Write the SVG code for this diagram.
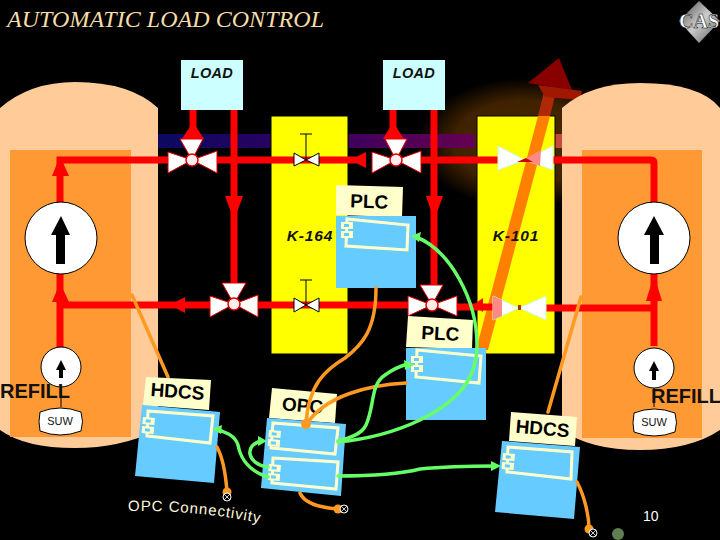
<svg xmlns="http://www.w3.org/2000/svg" xmlns:xlink="http://www.w3.org/1999/xlink" width="720" height="540" viewBox="0 0 720 540">
<style>
.s{font-family:"Liberation Sans",Arial,sans-serif}
.tank{fill:#ffcc99}.inner{fill:#ff9933}
.yel{fill:#ffff00;stroke:#000;stroke-width:1}
.load{fill:#ccffff}
.lt{font-size:14.5px;font-style:italic;font-weight:bold;fill:#111;text-anchor:middle;letter-spacing:.3px}
.k{font-size:15.5px;font-style:italic;font-weight:bold;fill:#111;text-anchor:middle;letter-spacing:.9px}
.pipe{fill:none;stroke:#ff0000;stroke-width:7}
.rh{fill:#ff0000}
.v{fill:#fff;stroke:#e00000;stroke-width:1}
.vc{fill:#ffeeee;stroke:#e00000;stroke-width:1.5}
.sv{fill:#fff;stroke:#000;stroke-width:1}
.pg{fill:#ffffff;stroke:#ccffcc;stroke-width:1}
.pump{fill:#fff;stroke:#000;stroke-width:1}
.lab{fill:#ffffcc}.blue{fill:#66ccff}
.in{fill:none;stroke:#ffffcc;stroke-width:3}
.bt{font-size:19px;font-weight:bold;fill:#000;text-anchor:middle}
.gr{fill:none;stroke:#66ff66;stroke-width:3.5;stroke-linecap:round}
.gh{fill:#66ff66}
.or{fill:none;stroke:#ff9922;stroke-width:3.5;stroke-linecap:round}
.od{fill:#ff9922}
.x{fill:#000;stroke:#fff;stroke-width:1}
.ref{font-size:20px;font-weight:bold;fill:#111}
.suw{fill:#fff;stroke:#000;stroke-width:1}
</style>
<defs>
<radialGradient id="glow"><stop offset="0" stop-color="#4f2b00"/><stop offset=".65" stop-color="#402200"/><stop offset="1" stop-color="#000"/></radialGradient>
<linearGradient id="band" x1="0" x2="1" y1="0" y2="0"><stop offset="0" stop-color="#0a0a60"/><stop offset=".45" stop-color="#300060"/><stop offset="1" stop-color="#660050"/></linearGradient>
<linearGradient id="dia" x1="0" x2="1" y1="0" y2="1"><stop offset="0" stop-color="#444"/><stop offset=".5" stop-color="#ccc"/><stop offset="1" stop-color="#555"/></linearGradient>
<g id="lug"><rect x="0" y="0" width="12" height="7" fill="#ffffcc"/><rect x="0" y="9" width="12" height="7" fill="#ffffcc"/><rect x="3" y="2" width="5" height="3" fill="#66ccff"/><rect x="3" y="11" width="5" height="3" fill="#66ccff"/></g>
</defs>
<rect width="720" height="540" fill="#000"/>
<text id="title" x="7" y="27" font-family="'Liberation Serif',serif" font-size="24" font-style="italic" fill="#f5dca8" textLength="317">AUTOMATIC LOAD CONTROL</text>
<g id="logo"><polygon points="699,1 720,21 699,43 679,21" fill="url(#dia)"/><text x="699" y="28" font-family="'Liberation Serif',serif" font-size="20" font-weight="bold" fill="#fff" stroke="#000" stroke-width=".5" text-anchor="middle" textLength="40">CAS</text></g>

<ellipse cx="525" cy="143" rx="108" ry="65" fill="url(#glow)"/>
<rect x="158" y="134" width="317" height="14" fill="url(#band)"/>
<rect x="555" y="134" width="8" height="14" fill="#c84a3a"/>

<g id="tank-left"><path class="tank" d="M0 108Q30 82 75 82Q130 82 158 108V430Q120 448 75 448Q25 448 0 430Z"/><path class="inner" d="M10 150H131V437H10Z"/></g>
<rect id="k164-box" class="yel" x="271" y="116" width="77" height="238"/>
<rect id="k101-box" class="yel" x="477" y="116" width="78" height="238"/>

<g id="flow-arrow"><polygon points="476,350 538,116 550,116 488,350" fill="#ff8000"/><polygon points="538,116 544,92 556,92 550,116" fill="#b02808"/><polygon points="559,58 572,90 528,83" fill="#880000"/><polygon points="538,85 582,91 580,100 545,97" fill="#a01800"/></g>
<g id="tank-right"><path class="tank" d="M562 108Q590 83 640 83Q700 83 720 108V430Q690 450 640 450Q590 450 562 430Z"/><path class="inner" d="M582 150H702V438H582Z"/></g>

<g id="connectors">
<path class="pipe" d="M60 203V160H168M217 160H366M421 160H498M553 160H651Q654 160 654 163V203"/>
<path class="pipe" d="M60 348V274M60 305H210M258 305H408M456 307H493M546 308H654M654 346V274"/>
<path class="pipe" d="M193 110V130M234 110V285M393 110V130M434 110V285"/>
<polygon class="rh" points="193,122 204,139 182,139"/>
<polygon class="rh" points="393,122 404,139 383,139"/>
<polygon class="rh" points="225,196 243,196 234,220"/>
<polygon class="rh" points="426,196 443,196 434,220"/>
<polygon class="rh" points="60,156 69,176 52,176"/>
<polygon class="rh" points="60,283 69,302 52,302"/>
<polygon class="rh" points="654,275 662,301 646,301"/>
<polygon class="rh" points="170,305 185,297 185,313"/>
<polygon class="rh" points="350,160 366,152 366,168"/>
<polygon class="rh" points="473,305 483,298 483,312"/>
</g>

<g id="valve-1"><polygon class="v" points="168,152 192,160 168,173"/><polygon class="v" points="217,151 192,160 217,173"/><polygon class="v" points="180,139 203,139 192,160"/><circle class="vc" cx="192" cy="160" r="6"/></g>
<g id="valve-2"><polygon class="v" points="372,152 396,160 372,173"/><polygon class="v" points="421,151 396,160 421,173"/><polygon class="v" points="385,139 407,139 396,160"/><circle class="vc" cx="396" cy="160" r="6"/></g>
<g id="valve-3"><polygon class="v" points="210,296 234,304 210,317"/><polygon class="v" points="258,295 234,304 258,317"/><polygon class="v" points="222,283 246,283 234,304"/><circle class="vc" cx="234" cy="304" r="6"/></g>
<g id="valve-4"><polygon class="v" points="408,296 432,305 408,316"/><polygon class="v" points="457,296 432,305 457,316"/><polygon class="v" points="420,285 443,285 432,305"/><circle class="vc" cx="432" cy="305" r="6"/></g>
<g id="valve-k164-top"><path d="M306 134V160M300 134H312" stroke="#000" fill="none"/><polygon class="sv" points="294,153 306,160 294,166"/><polygon class="sv" points="319,153 306,160 319,166"/></g>
<g id="valve-k164-bottom"><path d="M306 280V305M300 280H312" stroke="#000" fill="none"/><polygon class="sv" points="294,298 306,305 294,312"/><polygon class="sv" points="319,298 306,305 319,312"/></g>
<g id="valve-k101-top"><polygon class="pg" points="498,146 525,160 498,170"/><polygon class="pg" points="553,146 525,160 553,170"/><polygon points="527,158 541,150 540,166 530,162" fill="#ff8888"/><polygon points="517,162 533,162 526,158" fill="#cc0000"/></g>
<g id="valve-k101-bottom"><polygon class="pg" points="493,296 519,308 493,320"/><polygon class="pg" points="546,296 519,308 546,320"/><polygon points="493,296 502,300 502,316 493,320" fill="#ff8888"/><rect x="518" y="305" width="3" height="5" fill="#aa3300"/></g>

<g id="pump-1"><circle class="pump" cx="61" cy="238" r="36"/><polygon points="61,216 70,235 65,235 65,264 56,264 56,235 51,235"/></g>
<g id="pump-2"><circle class="pump" cx="654" cy="238" r="36"/><polygon points="654,216 664,235 659,235 659,264 650,264 650,235 644,235"/></g>
<g id="pump-3"><path d="M61 380V407" stroke="#000"/><circle class="pump" cx="61" cy="367" r="20"/><polygon points="61,360 66,370 63,370 63,378 59,378 59,370 56,370"/></g>
<g id="pump-4"><path d="M654 380V407" stroke="#000"/><circle class="pump" cx="654" cy="368" r="20"/><polygon points="654,361 659,371 656,371 656,380 652,380 652,371 649,371"/></g>
<g id="suw-1"><path class="suw" d="M40 412Q60 404 81 412Q84 422 81 431Q60 439 40 431Q38 422 40 412Z"/><text class="s" x="60" y="425" font-size="11" text-anchor="middle" fill="#111">SUW</text></g>
<g id="suw-2"><path class="suw" d="M634 413Q654 405 675 413Q678 423 675 432Q654 440 634 432Q632 423 634 413Z"/><text class="s" x="654" y="426" font-size="11" text-anchor="middle" fill="#111">SUW</text></g>
<text class="s ref" x="0" y="398">REFILL</text>
<text class="s ref" x="651" y="403">REFILL</text>

<g id="load-1"><rect class="load" x="181" y="60" width="62" height="50"/><text class="s lt" x="212" y="78">LOAD</text></g>
<g id="load-2"><rect class="load" x="383" y="60" width="62" height="50"/><text class="s lt" x="414" y="78">LOAD</text></g>
<text class="s k" x="310" y="241">K-164</text>
<text class="s k" x="516" y="241">K-101</text>

<g id="tank-links"><path class="or" d="M132 295L168 377"/><path class="or" d="M581 297L548 412"/></g>

<g id="plc-1"><polygon class="lab" points="336,185 403,187 402,217 336,215"/><text class="s bt" transform="rotate(2 369 208)" x="369" y="208">PLC</text><rect class="blue" x="336" y="216" width="80" height="72"/><polygon class="in" points="347,219 408,225 407,250 346,246"/><use xlink:href="#lug" href="#lug" x="341" y="222"/></g>
<g id="plc-2"><polygon class="lab" points="408,316 473,320 472,349 406,347"/><text class="s bt" transform="rotate(3 440 340)" x="440" y="340">PLC</text><rect class="blue" x="406" y="348" width="80" height="72"/><polygon class="in" points="417,350 481,356 479,383 416,377"/><use xlink:href="#lug" href="#lug" x="411" y="356"/></g>
<g id="hdcs-1"><polygon class="lab" points="146,377 211,380 209,410 143,405"/><text class="s bt" transform="rotate(4 177 398)" x="177" y="398">HDCS</text><polygon class="blue" points="142,405 220,412 214,483 135,476"/><polygon class="in" points="148,411 213,416 210,443 147,436"/><use xlink:href="#lug" href="#lug" transform="translate(143,417) rotate(5)"/></g>
<g id="opc"><polygon class="lab" points="272,388 337,394 335,423 269,418"/><text class="s bt" transform="rotate(5 302 412)" x="302" y="412">OPC</text><polygon class="blue" points="267,418 346,424 341,496 261,488"/><polygon class="in" points="273,423 338,428 335,454 271,448"/><polygon class="in" points="273,458 338,462 336,489 272,483"/><use xlink:href="#lug" href="#lug" transform="translate(269,430) rotate(5)"/><use xlink:href="#lug" href="#lug" transform="translate(269,464) rotate(5)"/></g>
<g id="hdcs-2"><polygon class="lab" points="511,412 577,417 575,446 509,441"/><text class="s bt" transform="rotate(5 542 435)" x="542" y="435">HDCS</text><polygon class="blue" points="502,441 580,447 574,519 495,512"/><polygon class="in" points="508,447 572,452 571,479 507,472"/><use xlink:href="#lug" href="#lug" transform="translate(503,453) rotate(5)"/></g>

<g id="signal-links">
<path class="or" d="M376 288C376 330 362 345 345 358C325 370 308 385 306 425"/>
<path class="or" d="M406 383C370 385 325 395 306 425"/>
<circle class="od" cx="306" cy="424" r="5"/>
<path class="or" d="M217 447C224 460 226 478 227 492"/><circle class="od" cx="227" cy="492" r="4.5"/>
<path class="or" d="M300 493C305 505 325 508 338 509"/><circle class="od" cx="338" cy="509" r="4.5"/>
<path class="or" d="M577 482C584 495 589 515 589 529"/><circle class="od" cx="589" cy="529" r="4.5"/>
<path class="gr" d="M338 441C350 438 362 434 366 425C375 405 370 385 385 375C392 370 400 366 408 364"/><polygon class="gh" points="414,365 404,360 405,370"/>
<path class="gr" d="M338 442C370 439 395 432 420 420C450 405 477 385 477 345C477 300 450 250 416 237"/><polygon class="gh" points="411,236 421,232 419,242"/>
<path class="gr" d="M338 476C370 476 400 474 420 469C450 466 475 466 496 466"/><polygon class="gh" points="501,466 491,461 491,471"/>
<path class="gr" d="M268 477C245 470 240 455 238 445C235 435 225 432 216 429"/><polygon class="gh" points="212,429 222,425 221,434"/>
<path class="gr" d="M268 467C246 464 244 444 262 441"/><polygon class="gh" points="267,441 258,436 258,446"/>
</g>
<g id="terminals">
<g><circle class="x" cx="227" cy="497" r="4"/><path d="M224 494L230 500M230 494L224 500" stroke="#fff" stroke-width=".8"/></g>
<g><circle class="x" cx="344" cy="509" r="4"/><path d="M341 506L347 512M347 506L341 512" stroke="#fff" stroke-width=".8"/></g>
<g><circle class="x" cx="593" cy="533" r="4"/><path d="M590 530L596 536M596 530L590 536" stroke="#fff" stroke-width=".8"/></g>
<circle cx="618" cy="534" r="6" fill="#5f7f52"/>
</g>
<path id="oc-path" d="M128 511Q200 510 264 524" fill="none"/>
<text class="s" font-size="15" fill="#fff8dc" letter-spacing=".9"><textPath href="#oc-path" xlink:href="#oc-path">OPC Connectivity</textPath></text>
<text class="s" x="643" y="521" font-size="14" fill="#fff">10</text>
</svg>
